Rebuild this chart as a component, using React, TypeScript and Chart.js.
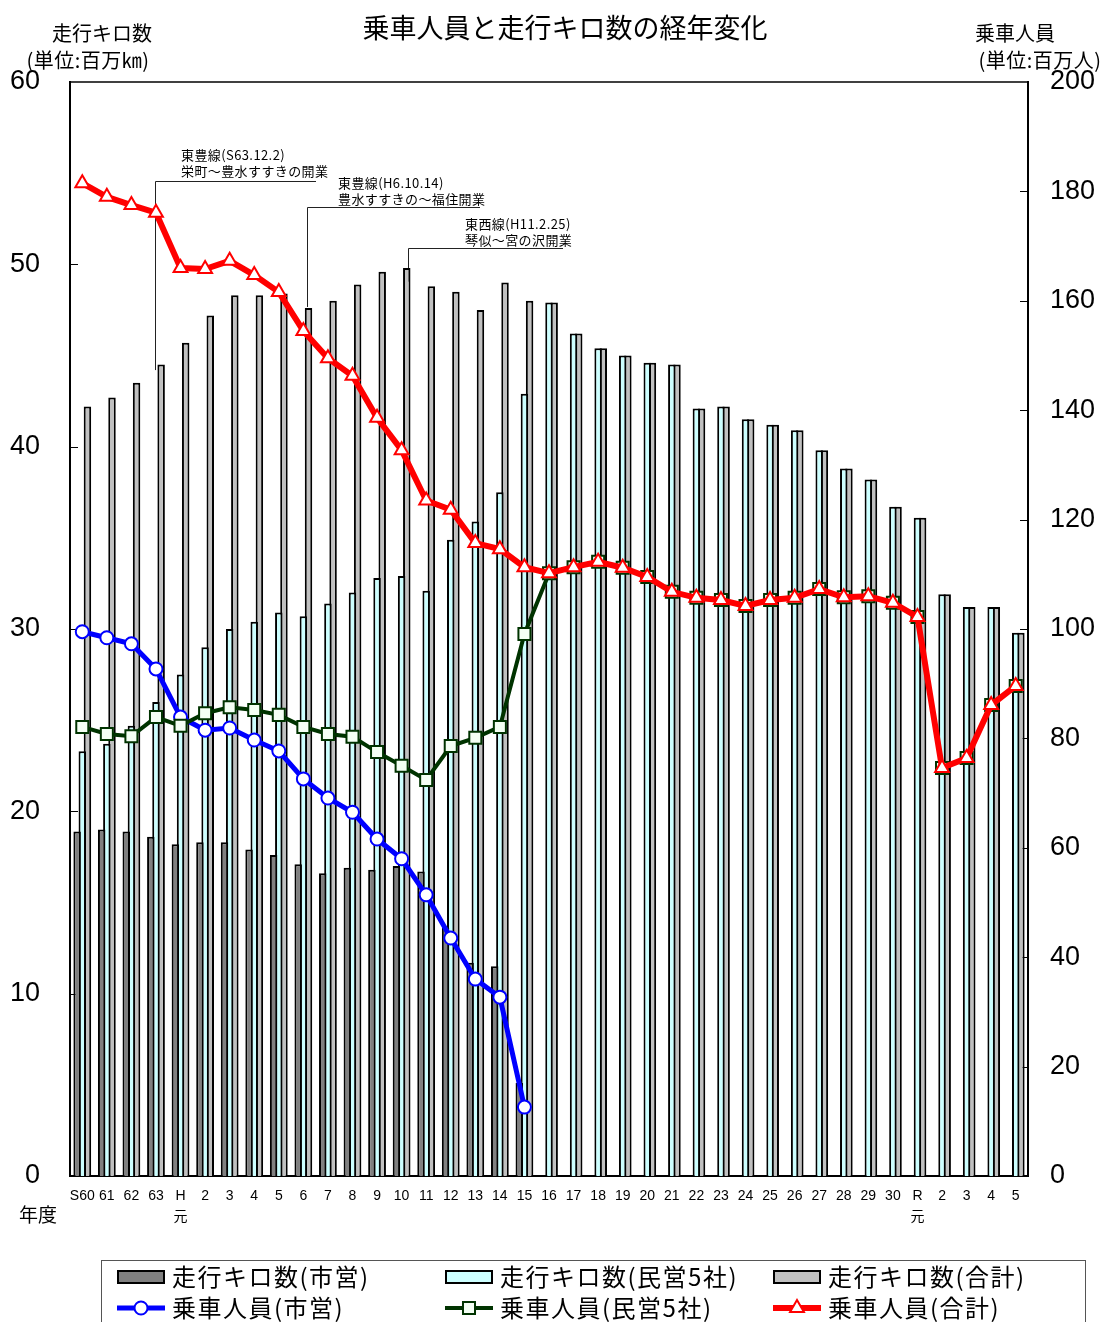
import { useEffect, useRef } from 'react';
import { Chart, registerables } from 'chart.js';
import { drawPoint } from 'chart.js/helpers';

Chart.register(...registerables);

// ---- data ----
const categories: (string | string[])[] = [
  'S60', '61', '62', '63', ['H', '元'],
  '2', '3', '4', '5', '6', '7', '8', '9', '10', '11', '12', '13', '14', '15',
  '16', '17', '18', '19', '20', '21', '22', '23', '24', '25', '26', '27', '28', '29', '30',
  ['R', '元'], '2', '3', '4', '5',
];

// 走行キロ数 (百万km)
const kmCity: (number | null)[] = [
  18.9, 19.0, 18.9, 18.6, 18.2, 18.3, 18.3, 17.9, 17.6, 17.1, 16.6, 16.9, 16.8, 17.0, 16.7, 13.6, 11.7, 11.5, 5.1,
  null, null, null, null, null, null, null, null, null, null, null, null, null, null, null, null, null, null, null, null,
];
const kmPrivate: number[] = [
  23.3, 23.7, 24.7, 26.0, 27.5, 29.0, 30.0, 30.4, 30.9, 30.7, 31.4, 32.0, 32.8, 32.9, 32.1, 34.9, 35.9, 37.5, 42.9,
  47.9, 46.2, 45.4, 45.0, 44.6, 44.5, 42.1, 42.2, 41.5, 41.2, 40.9, 39.8, 38.8, 38.2, 36.7, 36.1, 31.9, 31.2, 31.2, 29.8,
];
const kmTotal: number[] = [
  42.2, 42.7, 43.5, 44.5, 45.7, 47.2, 48.3, 48.3, 48.4, 47.6, 48.0, 48.9, 49.6, 49.8, 48.8, 48.5, 47.5, 49.0, 48.0,
  47.9, 46.2, 45.4, 45.0, 44.6, 44.5, 42.1, 42.2, 41.5, 41.2, 40.9, 39.8, 38.8, 38.2, 36.7, 36.1, 31.9, 31.2, 31.2, 29.8,
];

// 乗車人員 (百万人)
const ridersCity: (number | null)[] = [
  99.5, 98.4, 97.3, 92.7, 83.9, 81.5, 81.9, 79.7, 77.7, 72.6, 69.1, 66.5, 61.6, 58.0, 51.4, 43.5, 36.0, 32.7, 12.6,
  null, null, null, null, null, null, null, null, null, null, null, null, null, null, null, null, null, null, null, null,
];
const ridersPrivate: number[] = [
  82.1, 80.8, 80.4, 83.9, 82.3, 84.6, 85.7, 85.2, 84.3, 82.1, 80.8, 80.3, 77.5, 75.0, 72.4, 78.6, 80.1, 82.1, 99.1,
  110.2, 111.3, 112.3, 111.2, 109.5, 106.8, 105.7, 105.3, 104.2, 105.3, 105.7, 107.3, 105.8, 106.0, 104.8, 102.2, 74.6, 76.4, 86.1, 89.6,
];
const ridersTotal: number[] = [
  181.5, 179.0, 177.5, 176.1, 166.0, 165.8, 167.3, 164.7, 161.6, 154.5, 149.5, 146.3, 138.6, 132.7, 123.5, 121.8, 115.7, 114.6, 111.3,
  110.2, 111.3, 112.3, 111.2, 109.5, 106.8, 105.7, 105.3, 104.2, 105.3, 105.7, 107.3, 105.8, 106.0, 104.8, 102.2, 74.6, 76.4, 86.1, 89.6,
];

const leftTicks = [0, 10, 20, 30, 40, 50, 60];
const rightTicks = [0, 20, 40, 60, 80, 100, 120, 140, 160, 180, 200];

const annotations = [
  { index: 3, lines: ['東豊線(S63.12.2)', '栄町～豊水すすきの開業'], top: 54.55, bottom: 44.2 },
  { index: 9, lines: ['東豊線(H6.10.14)', '豊水すすきの～福住開業'], top: 53.15, bottom: 47.66 },
  { index: 13, lines: ['東西線(H11.2.25)', '琴似～宮の沢開業'], top: 50.9, bottom: 49.05 },
];

const CJK = "'Noto Sans CJK JP', 'Noto Sans', sans-serif";
const NUM = "'Liberation Sans Narrow', 'Arial Narrow', 'Liberation Sans', 'Noto Sans CJK JP', sans-serif";

// layout constants for annotation text (pixels)
const ANN_LAYOUT = [
  { dx: -1, textX: 181, textY: 155, hEnd: 316 },
  { dx: 4, textX: 338, textY: 183, hEnd: 480 },
  { dx: 6, textX: 465, textY: 224, hEnd: 563 },
];

const setSpacing = (ctx: any, v: string) => {
  try { ctx.letterSpacing = v; } catch (e) { /* ignore */ }
};

const overlayPlugin = {
  id: 'overlay',
  beforeDatasetsDraw(chart: any) {
    const ctx = chart.ctx as CanvasRenderingContext2D;
    const { left, right, top } = chart.chartArea;
    const xs = chart.scales.x, ys = chart.scales.y, ys2 = chart.scales.y2;
    ctx.save();
    // top border
    ctx.strokeStyle = '#000';
    ctx.lineWidth = 1.5;
    ctx.beginPath();
    ctx.moveTo(left - 1, top);
    ctx.lineTo(right + 1, top);
    ctx.stroke();
    // inside tick marks
    ctx.lineWidth = 1;
    leftTicks.slice(1, -1).forEach((v) => {
      const py = Math.round(ys.getPixelForValue(v)) + 0.5;
      ctx.beginPath();
      ctx.moveTo(left, py);
      ctx.lineTo(left + 8, py);
      ctx.stroke();
    });
    rightTicks.slice(1, -1).forEach((v) => {
      const py = Math.round(ys2.getPixelForValue(v)) + 0.5;
      ctx.beginPath();
      ctx.moveTo(right - 8, py);
      ctx.lineTo(right, py);
      ctx.stroke();
    });
    // annotations
    annotations.forEach((a, i) => {
      const L = ANN_LAYOUT[i];
      const lx = Math.round(xs.getPixelForValue(a.index) + L.dx) + 0.5;
      const ty = Math.round(ys.getPixelForValue(a.top)) + 0.5;
      const by = ys.getPixelForValue(a.bottom);
      ctx.strokeStyle = '#222';
      ctx.lineWidth = 1;
      ctx.beginPath();
      ctx.moveTo(lx, by);
      ctx.lineTo(lx, ty);
      ctx.lineTo(L.hEnd, ty);
      ctx.stroke();
      ctx.fillStyle = '#000';
      ctx.font = `13px ${CJK}`;
      setSpacing(ctx, '0.4px');
      ctx.textAlign = 'left';
      ctx.textBaseline = 'middle';
      a.lines.forEach((t, k) => ctx.fillText(t, L.textX, L.textY + k * 16.5));
    });
    setSpacing(ctx, '0px');
    ctx.restore();
  },
  afterDraw(chart: any) {
    const ctx = chart.ctx as CanvasRenderingContext2D;
    ctx.save();
    ctx.fillStyle = '#000';
    ctx.textBaseline = 'middle';
    ctx.textAlign = 'center';
    ctx.font = `27px ${CJK}`;
    ctx.fillText('乗車人員と走行キロ数の経年変化', 565, 28);
    ctx.font = `20px ${CJK}`;
    ctx.fillText('走行キロ数', 102, 33);
    setSpacing(ctx, '0.5px');
    ctx.fillText('(単位:百万㎞)', 88, 60);
    setSpacing(ctx, '0px');
    ctx.fillText('乗車人員', 1015, 33);
    setSpacing(ctx, '0.5px');
    ctx.fillText('(単位:百万人)', 1040, 60);
    setSpacing(ctx, '0px');
    ctx.font = `19px ${CJK}`;
    ctx.fillText('年度', 38, 1215);

    // legend box
    ctx.strokeStyle = '#555';
    ctx.lineWidth = 1;
    ctx.strokeRect(101.5, 1260.5, 984, 80);

    const ds = chart.data.datasets;
    const colX = [117, 445, 773];
    const rowY = [1277, 1308];
    const bars = [ds[3], ds[4], ds[5]];
    const lines = [ds[2], ds[1], ds[0]];
    ctx.textAlign = 'left';
    ctx.font = `24px ${CJK}`;
    bars.forEach((d: any, i: number) => {
      const x = colX[i];
      ctx.fillStyle = '#000';
      ctx.fillRect(x, rowY[0] - 7, 48, 14);
      ctx.fillStyle = d.backgroundColor;
      ctx.fillRect(x + 2, rowY[0] - 5, 44, 10);
      ctx.fillStyle = '#000';
      setSpacing(ctx, '1.5px');
      ctx.fillText(d.label, x + 55, rowY[0]);
      setSpacing(ctx, '0px');
    });
    lines.forEach((d: any, i: number) => {
      const x = colX[i];
      const y = rowY[1];
      ctx.strokeStyle = d.borderColor;
      ctx.lineWidth = d.borderWidth;
      ctx.beginPath();
      ctx.moveTo(x, y);
      ctx.lineTo(x + 48, y);
      ctx.stroke();
      ctx.fillStyle = d.pointBackgroundColor;
      ctx.strokeStyle = d.pointBorderColor;
      ctx.lineWidth = d.pointBorderWidth;
      drawPoint(ctx, { pointStyle: d.pointStyle, radius: d.pointRadius, borderWidth: d.pointBorderWidth, rotation: 0 } as any, x + 24, y);
      ctx.fillStyle = '#000';
      setSpacing(ctx, '1.5px');
      ctx.fillText(d.label, x + 55, y);
      setSpacing(ctx, '0px');
    });
    ctx.restore();
  },
};

export default function App() {
  const ref = useRef<HTMLCanvasElement | null>(null);
  useEffect(() => {
    document.body.style.margin = '0';
    const canvas = ref.current;
    if (!canvas) return;
    const chart = new Chart(canvas, {
      data: {
        labels: categories as any,
        datasets: [
          {
            type: 'line', label: '乗車人員(合計)', data: ridersTotal, yAxisID: 'y2', order: 1,
            borderColor: '#ff0000', borderWidth: 6, pointStyle: 'triangle', pointRadius: 8,
            pointBackgroundColor: '#ffffff', pointBorderColor: '#ff0000', pointBorderWidth: 2, tension: 0,
          },
          {
            type: 'line', label: '乗車人員(民営5社)', data: ridersPrivate, yAxisID: 'y2', order: 2,
            borderColor: '#003300', borderWidth: 4, pointStyle: 'rect', pointRadius: 8.5,
            pointBackgroundColor: '#f4fff4', pointBorderColor: '#003300', pointBorderWidth: 2, tension: 0,
          },
          {
            type: 'line', label: '乗車人員(市営)', data: ridersCity, yAxisID: 'y2', order: 3,
            borderColor: '#0000ff', borderWidth: 5, pointStyle: 'circle', pointRadius: 6.5,
            pointBackgroundColor: '#ffffff', pointBorderColor: '#0000ff', pointBorderWidth: 2, tension: 0,
            spanGaps: false,
          },
          {
            type: 'bar', label: '走行キロ数(市営)', data: kmCity, yAxisID: 'y', order: 4,
            backgroundColor: '#808080', borderColor: '#000', borderWidth: 2,
            barPercentage: 1.45, categoryPercentage: 0.63,
          },
          {
            type: 'bar', label: '走行キロ数(民営5社)', data: kmPrivate, yAxisID: 'y', order: 5,
            backgroundColor: '#ccffff', borderColor: '#000', borderWidth: 2,
            barPercentage: 1.45, categoryPercentage: 0.63,
          },
          {
            type: 'bar', label: '走行キロ数(合計)', data: kmTotal, yAxisID: 'y', order: 6,
            backgroundColor: '#c0c0c0', borderColor: '#000', borderWidth: 2,
            barPercentage: 1.45, categoryPercentage: 0.63,
          },
        ] as any,
      },
      options: {
        responsive: false,
        animation: false,
        layout: { padding: { top: 82, left: 0, right: 0, bottom: 0 } },
        plugins: { legend: { display: false }, tooltip: { enabled: false }, title: { display: false } },
        scales: {
          x: {
            offset: true,
            grid: { display: false, drawTicks: false },
            border: { display: true, color: '#000', width: 2 },
            ticks: {
              autoSkip: false, maxRotation: 0, minRotation: 0, padding: 10, color: '#000',
              font: { family: NUM, size: 14, lineHeight: 1.5 },
            },
            afterFit: (s: any) => { s.height = 146; },
          },
          y: {
            position: 'left', min: 0, max: 60,
            afterBuildTicks: (s: any) => { s.ticks = leftTicks.map((v) => ({ value: v })); },
            grid: { display: false, drawTicks: false },
            border: { display: true, color: '#000', width: 2 },
            ticks: { padding: 30, color: '#000', font: { family: NUM, size: 27 } },
            afterFit: (s: any) => { s.width = 70; },
          },
          y2: {
            position: 'right', min: 0, max: 200,
            afterBuildTicks: (s: any) => { s.ticks = rightTicks.map((v) => ({ value: v })); },
            grid: { display: false, drawTicks: false },
            border: { display: true, color: '#000', width: 2 },
            ticks: { padding: 22, color: '#000', font: { family: NUM, size: 27 } },
            afterFit: (s: any) => { s.width = 79; },
          },
        },
      } as any,
      plugins: [overlayPlugin],
    });
    return () => chart.destroy();
  }, []);
  return (
    <div style={{ position: 'relative', width: 1107, height: 1322 }}>
      <canvas ref={ref} width={1107} height={1322} style={{ display: 'block', width: 1107, height: 1322 }} />
    </div>
  );
}
